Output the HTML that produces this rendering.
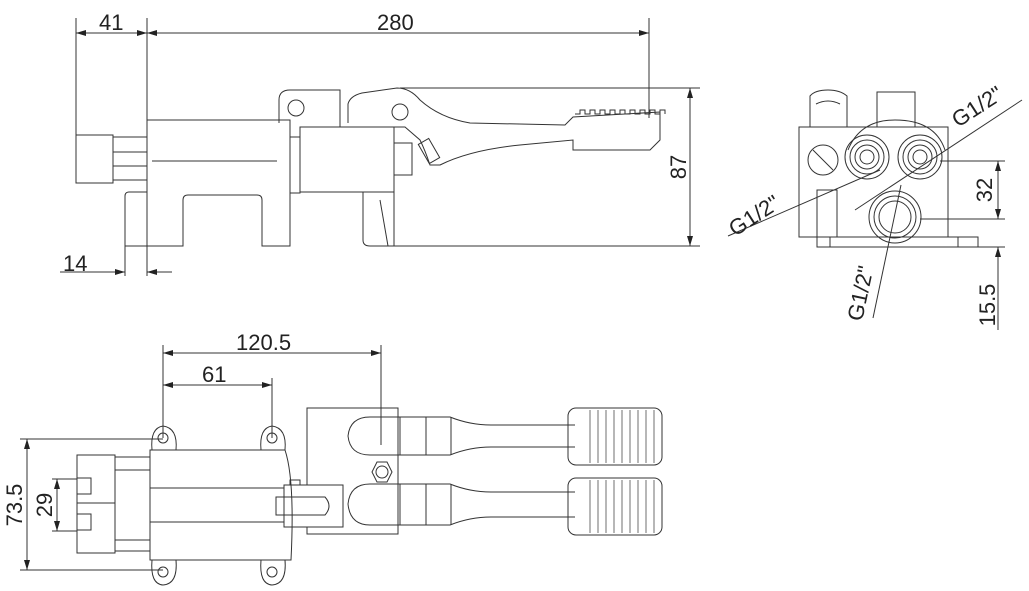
<!DOCTYPE html>
<html><head><meta charset="utf-8"><style>
html,body{margin:0;padding:0;background:#fff;}
svg{display:block;}
text{font-family:"Liberation Sans",sans-serif;font-size:22px;fill:#222;}
</style></head><body>
<svg width="1029" height="591" viewBox="0 0 1029 591" xmlns="http://www.w3.org/2000/svg">
<defs>
<marker id="a" viewBox="0 0 10 6" refX="10" refY="3" markerWidth="10" markerHeight="6" orient="auto-start-reverse" markerUnits="userSpaceOnUse"><path d="M0,0 L10,3 L0,6 z" fill="#222"/></marker>
</defs>
<g fill="none" stroke="#333" stroke-width="1">
<!-- ===== Side view ===== -->
<line x1="76" y1="18" x2="76" y2="135"/>
<line x1="147" y1="18" x2="147" y2="120"/>
<line x1="649" y1="18" x2="649" y2="118"/>
<line x1="76" y1="33" x2="147" y2="33" marker-start="url(#a)" marker-end="url(#a)"/>
<line x1="147" y1="33" x2="649" y2="33" marker-start="url(#a)" marker-end="url(#a)"/>
<rect x="76" y="135" width="37" height="48"/>
<rect x="113" y="137" width="34" height="43"/>
<line x1="113" y1="152" x2="147" y2="152"/><line x1="113" y1="166" x2="147" y2="166"/>
<path d="M147,120 H290 V246 H262 V200 Q262,195 257,195 H188 Q183,195 183,200 V246 H147 Z"/>
<line x1="152" y1="161" x2="277" y2="161"/>
<path d="M125,246 V196 Q125,192 129,192 H147 V246 Z"/>
<rect x="290" y="137" width="10" height="56"/>
<path d="M279,123 V100 Q279,90 290,90 H340 V127"/>
<circle cx="296" cy="108" r="8"/>
<rect x="300" y="127" width="94" height="65"/>
<rect x="394" y="143" width="18" height="32"/>
<path d="M363,192 V240 Q363,246 370,246 H394 V192"/>
<line x1="380" y1="200" x2="388" y2="246"/>
<path d="M348,123 V104 Q350,96 362,93 L397,88 Q410,88 420,100 Q440,118 470,123 L565,125 L573,117 L660,112 V140 L650,150 H573 V140 L520,145 Q470,150 440,165 L430,165 Q425,150 420,140 L405,127 H348"/>
<circle cx="400" cy="112" r="8"/>
<rect x="423" y="140" width="12" height="22" transform="rotate(-30 429 151)"/>
<path d="M575,114 h5 v-4 h5 v4 h5 v-4 h5 v4 h5 v-4 h5 v4 h5 v-4 h5 v4 h5 v-4 h5 v4 h5 v-4 h5 v4 h5 v-4 h5 v4 h5 v-4 h5 v4 h5 v-4 h5 v4"/>
<line x1="400" y1="88" x2="700" y2="88"/>
<line x1="394" y1="246" x2="700" y2="246"/>
<line x1="690" y1="88" x2="690" y2="246" marker-start="url(#a)" marker-end="url(#a)"/>
<line x1="125" y1="246" x2="125" y2="276"/>
<line x1="147" y1="246" x2="147" y2="276"/>
<line x1="60" y1="272" x2="125" y2="272" marker-end="url(#a)"/>
<line x1="172" y1="272" x2="147" y2="272" marker-end="url(#a)"/>
<!-- ===== End view ===== -->
<rect x="799" y="127" width="149" height="110"/>
<rect x="817" y="237" width="161" height="10"/>
<line x1="830" y1="237" x2="830" y2="247"/><line x1="958" y1="237" x2="958" y2="247"/>
<path d="M810,127 V96 Q815,90 828,90 Q840,90 847,96 V127"/>
<path d="M816,104 Q828,98 840,104"/>
<rect x="877" y="92" width="38" height="35"/>
<path d="M848,150 Q860,120 895,120 Q935,120 945,150"/>
<circle cx="867" cy="157" r="22"/><circle cx="867" cy="157" r="17"/><circle cx="867" cy="157" r="12"/><circle cx="867" cy="157" r="7"/>
<circle cx="920" cy="157" r="22"/><circle cx="920" cy="157" r="17"/><circle cx="920" cy="157" r="12"/><circle cx="920" cy="157" r="7"/>
<circle cx="895" cy="217" r="26"/><circle cx="895" cy="217" r="21"/><circle cx="895" cy="217" r="16"/>
<circle cx="823" cy="160" r="15"/>
<line x1="813" y1="150" x2="833" y2="170"/>
<rect x="817" y="190" width="20" height="47"/>
<line x1="940" y1="161" x2="1005" y2="161"/>
<line x1="920" y1="219" x2="1005" y2="219"/>
<line x1="978" y1="247" x2="1005" y2="247"/>
<line x1="998" y1="161" x2="998" y2="219" marker-start="url(#a)" marker-end="url(#a)"/>
<line x1="998" y1="247" x2="998" y2="330" marker-start="url(#a)"/>
<line x1="728" y1="236" x2="880" y2="170"/>
<line x1="855" y1="210" x2="1022" y2="100"/>
<line x1="901" y1="185" x2="873" y2="318"/>
<!-- ===== Top view ===== -->
<line x1="163" y1="345" x2="163" y2="438"/>
<line x1="272" y1="378" x2="272" y2="438"/>
<line x1="381" y1="345" x2="381" y2="445"/>
<line x1="163" y1="353" x2="381" y2="353" marker-start="url(#a)" marker-end="url(#a)"/>
<line x1="163" y1="385" x2="272" y2="385" marker-start="url(#a)" marker-end="url(#a)"/>
<path d="M150,450 H285 Q295,480 291,560 H150 Z"/>
<path d="M152,450 Q150,428 163,426 Q178,428 176,450"/><circle cx="163" cy="438" r="5"/>
<path d="M261,450 Q259,428 272,426 Q287,428 285,450"/><circle cx="272" cy="438" r="5"/>
<path d="M152,560 Q150,584 163,585 Q178,584 176,560"/><circle cx="163" cy="572" r="5"/>
<path d="M261,560 Q259,584 272,585 Q287,584 285,560"/><circle cx="272" cy="572" r="5"/>
<line x1="150" y1="488" x2="284" y2="488"/><line x1="150" y1="522" x2="284" y2="522"/>
<rect x="77" y="455" width="38" height="48"/><rect x="77" y="503" width="38" height="50"/>
<rect x="77" y="478" width="14" height="16"/><rect x="77" y="514" width="14" height="16"/>
<rect x="115" y="457" width="35" height="94"/>
<line x1="115" y1="470" x2="150" y2="470"/><line x1="115" y1="540" x2="150" y2="540"/>
<rect x="284" y="485" width="59" height="42"/>
<path d="M276,497 H325 Q333,506 325,515 H276 Z"/>
<rect x="290" y="480" width="10" height="5"/>
<path d="M307,485 V408 H398 V534 H307 V527"/>
<path d="M395,417 H370 Q350,417 348,436 Q350,455 370,455 H395"/>
<path d="M372,417 H450 Q470,425 491,425 H575 M372,455 H450 Q470,447 491,447 H575"/>
<line x1="400" y1="417" x2="400" y2="455"/><line x1="426" y1="417" x2="426" y2="455"/><line x1="451" y1="417" x2="451" y2="455"/>
<rect x="568" y="408" width="94" height="57" rx="8"/>
<path d="M395,484 H370 Q350,484 348,504 Q350,525 370,525 H395"/>
<path d="M372,484 H450 Q470,492 491,492 H575 M372,525 H450 Q470,517 491,517 H575"/>
<line x1="400" y1="484" x2="400" y2="525"/><line x1="426" y1="484" x2="426" y2="525"/><line x1="451" y1="484" x2="451" y2="525"/>
<rect x="568" y="478" width="94" height="57" rx="8"/>
<g stroke-width="0.7">
<path d="M590,410 V463 M598,410 V463 M606,410 V463 M614,410 V463 M622,410 V463 M630,410 V463 M638,410 V463 M646,410 V463 M654,410 V463"/>
<path d="M590,480 V533 M598,480 V533 M606,480 V533 M614,480 V533 M622,480 V533 M630,480 V533 M638,480 V533 M646,480 V533 M654,480 V533"/>
</g>
<polygon points="372,472 377,462 387,462 392,472 387,482 377,482"/>
<circle cx="382" cy="472" r="6"/>
<line x1="20" y1="439" x2="163" y2="439"/>
<line x1="20" y1="570" x2="163" y2="570"/>
<line x1="27" y1="439" x2="27" y2="570" marker-start="url(#a)" marker-end="url(#a)"/>
<line x1="52" y1="479" x2="77" y2="479"/><line x1="52" y1="531" x2="77" y2="531"/>
<line x1="57" y1="479" x2="57" y2="531" marker-start="url(#a)" marker-end="url(#a)"/>
</g>
<text x="99" y="30">41</text>
<text x="377" y="30">280</text>
<text x="63" y="271">14</text>
<text transform="translate(686,167) rotate(-90)" text-anchor="middle">87</text>
<text transform="translate(992,190) rotate(-90)" text-anchor="middle">32</text>
<text transform="translate(995,305) rotate(-90)" text-anchor="middle">15.5</text>
<text transform="translate(958,128) rotate(-33)">G1/2"</text>
<text transform="translate(735,237) rotate(-33)">G1/2"</text>
<text transform="translate(862,322) rotate(-78)">G1/2"</text>
<text x="236" y="350">120.5</text>
<text x="202" y="382">61</text>
<text transform="translate(22,505) rotate(-90)" text-anchor="middle">73.5</text>
<text transform="translate(52,505) rotate(-90)" text-anchor="middle">29</text>
</svg>
</body></html>
